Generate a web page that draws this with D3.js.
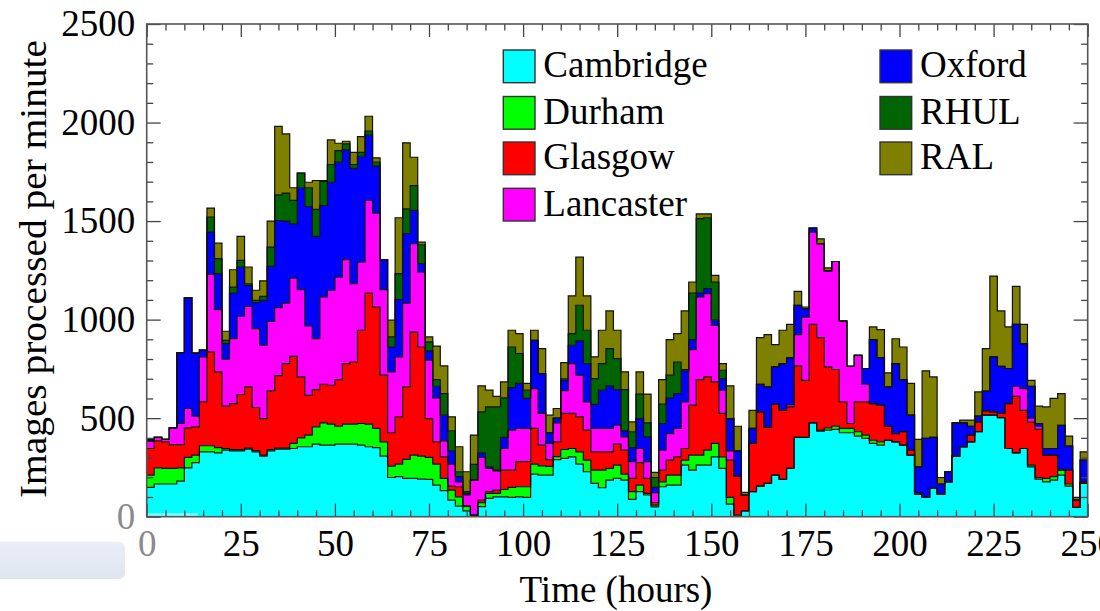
<!DOCTYPE html>
<html><head><meta charset="utf-8">
<script src="https://cdn.jsdelivr.net/npm/d3@7"></script>
<style>
body{margin:0;background:#fff}
svg{display:block}
text{font-family:"Liberation Serif","Times New Roman",serif}
</style>
</head><body>
<svg id="chart" width="1100" height="611"></svg>
<script>
// bin start times (hours), 2-hour bins
const hours = [0,2,4,6,8,10,12,14,16,18,20,22,24,26,28,30,32,34,36,38,40,42,44,46,48,50,52,54,56,58,60,62,64,66,68,70,72,74,76,78,80,82,84,86,88,90,92,94,96,98,100,102,104,106,108,110,112,114,116,118,120,122,124,126,128,130,132,134,136,138,140,142,144,146,148,150,152,154,156,158,160,162,164,166,168,170,172,174,176,178,180,182,184,186,188,190,192,194,196,198,200,202,204,206,208,210,212,214,216,218,220,222,224,226,228,230,232,234,236,238,240,242,244,246,248];

const cambridge = [149,166,166,166,181,248,274,329,329,324,338,334,334,343,329,307,334,343,343,346,355,355,368,363,363,368,368,368,363,355,351,307,199,203,194,194,191,189,160,132,84,54,30,8,51,93,101,101,98,101,98,216,211,211,290,296,304,267,228,169,147,186,194,186,88,127,110,50,152,160,160,262,236,262,262,304,245,64,0,30,127,155,169,211,189,245,402,402,476,434,439,443,426,426,409,397,372,363,388,380,363,312,115,98,144,115,177,307,355,380,431,515,515,503,346,324,346,253,191,177,186,211,155,47,169];
const durham = [62,82,79,79,67,53,38,31,31,26,7,6,6,5,6,5,6,5,5,26,45,59,88,113,107,91,102,102,110,115,97,73,58,64,97,118,116,112,107,62,51,47,24,0,20,25,17,37,51,51,54,51,47,44,15,45,42,62,59,67,89,59,68,30,39,33,8,9,25,51,51,25,76,50,76,68,59,34,8,0,0,0,0,0,0,0,0,0,0,5,12,16,22,22,22,17,16,17,0,0,0,0,0,0,0,0,0,0,0,0,0,0,0,0,0,0,0,9,8,17,17,25,11,0,0];
const glasgow = [135,137,135,121,118,150,144,223,476,385,216,234,280,311,219,186,298,368,429,442,309,202,189,196,197,237,307,315,473,665,616,338,169,240,368,625,554,197,113,110,20,51,0,0,13,9,17,98,87,127,127,181,105,35,75,183,178,178,152,93,93,84,106,122,67,114,76,13,59,76,93,59,254,384,371,312,220,189,198,80,245,377,284,360,351,312,363,290,500,470,309,288,135,25,152,169,186,186,71,42,68,26,7,0,0,0,0,0,0,34,50,22,17,21,228,287,194,218,244,118,109,0,70,37,8];
const lancaster = [39,17,12,85,107,98,54,228,394,316,238,330,397,408,400,372,353,345,307,397,443,352,259,443,482,520,527,397,346,470,476,434,309,304,425,448,380,296,223,81,112,25,56,178,217,118,98,110,203,169,169,202,161,82,96,116,253,211,144,119,119,119,96,67,85,72,85,50,102,135,144,237,282,419,423,287,118,47,0,0,0,0,0,0,0,12,159,321,468,476,487,548,410,290,236,89,0,0,0,0,0,0,0,0,0,0,0,0,0,0,0,0,0,0,0,51,110,20,16,0,0,0,0,0,0];
const oxford = [0,0,0,0,360,561,320,34,214,182,79,231,250,107,132,228,279,442,416,275,517,606,518,464,548,583,557,585,537,331,239,152,126,290,352,169,43,47,59,130,67,26,8,0,23,8,3,56,216,228,152,245,202,54,24,52,93,174,194,122,194,216,181,30,72,152,126,27,135,181,177,157,51,20,25,26,59,164,128,0,76,140,206,189,237,238,149,43,20,0,0,0,0,0,0,80,325,241,200,355,265,177,131,299,258,51,51,169,121,45,29,100,279,239,178,314,228,162,14,34,34,228,122,0,110];
const rhul = [0,0,0,0,0,0,0,0,76,76,17,30,34,8,12,20,98,130,142,119,74,95,137,122,90,59,31,20,20,20,20,0,51,132,126,126,96,46,34,110,102,25,9,79,208,304,321,201,206,152,42,0,0,0,0,8,59,181,169,131,135,189,157,210,80,124,71,50,98,115,160,7,236,377,360,194,42,0,0,0,0,0,0,0,0,0,0,0,0,0,0,0,0,0,0,0,0,0,0,0,0,0,0,0,0,0,0,0,0,0,0,0,0,0,0,0,0,0,0,0,0,0,0,0,0];
const ral = [7,0,0,0,0,0,0,0,46,79,46,88,121,85,51,79,132,348,300,64,0,28,147,5,125,37,13,62,80,76,22,0,85,284,335,144,13,25,170,140,71,127,101,149,132,85,54,81,85,101,34,51,127,89,49,82,191,244,174,110,169,191,144,90,50,113,146,26,125,181,144,297,56,25,20,34,34,166,125,13,92,237,265,113,169,169,70,8,0,25,16,0,0,0,0,0,64,142,71,126,165,161,139,343,307,33,0,0,14,31,123,216,410,281,211,193,98,30,88,211,254,161,51,14,42];

const seriesNames = ["Cambridge","Durham","Glasgow","Lancaster","Oxford","RHUL","RAL"];
const seriesColors = ["#00ffff","#00ff00","#ff0000","#ff00ff","#0000ff","#006400","#808000"];
const xTickValues = [0,25,50,75,100,125,150,175,200,225,250];
const yTickValues = [0,500,1000,1500,2000,2500];

const seriesValues = [cambridge,durham,glasgow,lancaster,oxford,rhul,ral];
const binWidth = 2;

const svg = d3.select("#chart");
const L = 146.7, R = 1087.7, T = 24, B = 516.7;
const x = d3.scaleLinear().domain([0,250]).range([L,R]);
const y = d3.scaleLinear().domain([0,2500]).range([B,T]);

// background artifacts of the original slide
const defs = svg.append("defs");
const grad = defs.append("linearGradient").attr("id","pan").attr("x1",0).attr("y1",0).attr("x2",0).attr("y2",1);
grad.append("stop").attr("offset","0%").attr("stop-color","#eaeef9");
grad.append("stop").attr("offset","100%").attr("stop-color","#dfe5ee");
svg.append("rect").attr("x",-8).attr("y",541.7).attr("width",133).attr("height",37.3).attr("rx",6).attr("fill","url(#pan)");

defs.append("clipPath").attr("id","plotclip").append("rect")
  .attr("x",L).attr("y",T).attr("width",R-L).attr("height",B-T);

// table rows (plus a closing row at the end of the last bin)
const rows = hours.map((h,i)=>{
  const r = {hour:h};
  seriesNames.forEach((n,k)=>{ r[n] = seriesValues[k][i]; });
  return r;
});
const last = Object.assign({}, rows[rows.length-1], {hour: hours[hours.length-1] + binWidth});
rows.push(last);

const stacked = d3.stack().keys(seriesNames)(rows);

const plot = svg.append("g").attr("clip-path","url(#plotclip)");
const area = d3.area().curve(d3.curveStepAfter)
  .x(d=>x(d.data.hour)).y0(d=>y(d[0])).y1(d=>y(d[1]));
const line = d3.line().curve(d3.curveStepAfter)
  .x(d=>x(d.data.hour)).y(d=>y(d[1]));

plot.selectAll("path.area").data(stacked).join("path")
  .attr("class","area").attr("d",area)
  .attr("fill",(d,i)=>seriesColors[i]);
plot.selectAll("path.edge").data(stacked).join("path")
  .attr("class","edge").attr("d",line)
  .attr("fill","none").attr("stroke","#111").attr("stroke-width",1.2);

// faint light strip over the bottom-left of the plot (slide artifact)
svg.append("rect").attr("x",L).attr("y",513).attr("width",51).attr("height",4)
  .attr("fill","#ffffff").attr("opacity",0.45);

// axes with inward ticks
const axisColor = "#444";
function styleAxis(g){
  g.select(".domain").remove();
  g.selectAll(".tick line").attr("stroke",axisColor).attr("stroke-width",1.3);
  g.selectAll(".tick text").attr("fill","#000").style("font-size","37px")
    .style("font-family",'"Liberation Serif","Times New Roman",serif');
}
const minorX = d3.range(0,251,5).filter(v=>v%25!==0);
const minorY = d3.range(0,2501,100).filter(v=>v%500!==0);

svg.append("g").attr("transform",`translate(0,${B})`)
  .call(d3.axisBottom(x).tickValues(xTickValues).tickSize(-13).tickPadding(13).tickFormat(d3.format("d")))
  .call(styleAxis);
svg.append("g").attr("transform",`translate(0,${B})`)
  .call(d3.axisBottom(x).tickValues(minorX).tickSize(-6.5).tickFormat(""))
  .call(styleAxis);
svg.append("g").attr("transform",`translate(0,${T})`)
  .call(d3.axisTop(x).tickValues(xTickValues).tickSize(-13).tickFormat(""))
  .call(styleAxis);
svg.append("g").attr("transform",`translate(0,${T})`)
  .call(d3.axisTop(x).tickValues(minorX).tickSize(-6.5).tickFormat(""))
  .call(styleAxis);

svg.append("g").attr("transform",`translate(${L},0)`)
  .call(d3.axisLeft(y).tickValues(yTickValues).tickSize(-14).tickPadding(11.5).tickFormat(d3.format("d")))
  .call(styleAxis);
svg.append("g").attr("transform",`translate(${L},0)`)
  .call(d3.axisLeft(y).tickValues(minorY).tickSize(-6.5).tickFormat(""))
  .call(styleAxis);
svg.append("g").attr("transform",`translate(${R},0)`)
  .call(d3.axisRight(y).tickValues(yTickValues).tickSize(-14).tickFormat(""))
  .call(styleAxis);
svg.append("g").attr("transform",`translate(${R},0)`)
  .call(d3.axisRight(y).tickValues(minorY).tickSize(-6.5).tickFormat(""))
  .call(styleAxis);

// grey "0" labels (faded in the original)
svg.selectAll(".tick text").filter(d=>d===0).attr("fill","#8a8a8a");

// frame
svg.append("rect").attr("x",L).attr("y",T).attr("width",R-L).attr("height",B-T)
  .attr("fill","none").attr("stroke","#555").attr("stroke-width",1.6);

// axis titles
svg.append("text").attr("x",616).attr("y",602).attr("text-anchor","middle")
  .style("font-size","37px").text("Time (hours)");
svg.append("text").attr("transform","translate(46,269) rotate(-90)")
  .attr("text-anchor","middle").style("font-size","37px")
  .attr("textLength",458).attr("lengthAdjust","spacingAndGlyphs")
  .text("Images processed per minute");

// legend
const legendPos = [
  {bx:503.3, by:50}, {bx:503.3, by:96.5}, {bx:503.3, by:142}, {bx:503.3, by:188.3},
  {bx:880, by:50}, {bx:880, by:96.5}, {bx:880, by:142}
];
const lg = svg.append("g");
seriesNames.forEach((n,i)=>{
  const p = legendPos[i];
  lg.append("rect").attr("x",p.bx).attr("y",p.by).attr("width",31.7).attr("height",32.7)
    .attr("fill",seriesColors[i]).attr("stroke","#333").attr("stroke-width",1.4);
  lg.append("text").attr("x",p.bx+40).attr("y",p.by+27.3)
    .style("font-size","37px").attr("fill","#000").text(n);
});
</script>
</body></html>
